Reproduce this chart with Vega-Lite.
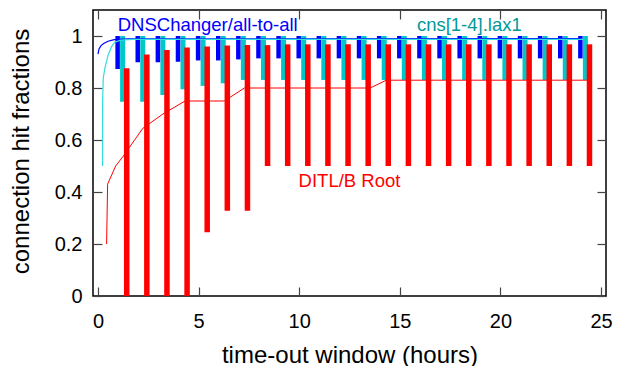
{
  "$schema": "https://vega.github.io/schema/vega-lite/v6.json",
  "width": 513,
  "height": 286,
  "autosize": {"type": "none"},
  "padding": {"left": 93, "top": 10, "right": 15, "bottom": 70},
  "config": {
    "font": "Liberation Sans",
    "view": {"stroke": "black", "strokeWidth": 1.5},
    "axis": {
      "grid": false,
      "domain": false,
      "tickSize": -9,
      "tickColor": "#444444",
      "tickWidth": 1.2,
      "labelFont": "Liberation Sans",
      "labelFontSize": 20,
      "labelColor": "black",
      "titleFont": "Liberation Sans",
      "titleFontSize": 24,
      "titleFontWeight": "normal",
      "titleColor": "black"
    }
  },
  "datasets": {
    "bars": [
      {"h": 1, "s": "DNSChanger", "lo": 0.873, "hi": 1.0},
      {"h": 2, "s": "DNSChanger", "lo": 0.899, "hi": 1.0},
      {"h": 3, "s": "DNSChanger", "lo": 0.899, "hi": 1.0},
      {"h": 4, "s": "DNSChanger", "lo": 0.901, "hi": 1.0},
      {"h": 5, "s": "DNSChanger", "lo": 0.906, "hi": 1.0},
      {"h": 6, "s": "DNSChanger", "lo": 0.906, "hi": 1.0},
      {"h": 7, "s": "DNSChanger", "lo": 0.91, "hi": 1.0},
      {"h": 8, "s": "DNSChanger", "lo": 0.914, "hi": 1.0},
      {"h": 9, "s": "DNSChanger", "lo": 0.914, "hi": 1.0},
      {"h": 10, "s": "DNSChanger", "lo": 0.914, "hi": 1.0},
      {"h": 11, "s": "DNSChanger", "lo": 0.914, "hi": 1.0},
      {"h": 12, "s": "DNSChanger", "lo": 0.914, "hi": 1.0},
      {"h": 13, "s": "DNSChanger", "lo": 0.914, "hi": 1.0},
      {"h": 14, "s": "DNSChanger", "lo": 0.914, "hi": 1.0},
      {"h": 15, "s": "DNSChanger", "lo": 0.914, "hi": 1.0},
      {"h": 16, "s": "DNSChanger", "lo": 0.914, "hi": 1.0},
      {"h": 17, "s": "DNSChanger", "lo": 0.914, "hi": 1.0},
      {"h": 18, "s": "DNSChanger", "lo": 0.914, "hi": 1.0},
      {"h": 19, "s": "DNSChanger", "lo": 0.914, "hi": 1.0},
      {"h": 20, "s": "DNSChanger", "lo": 0.914, "hi": 1.0},
      {"h": 21, "s": "DNSChanger", "lo": 0.914, "hi": 1.0},
      {"h": 22, "s": "DNSChanger", "lo": 0.914, "hi": 1.0},
      {"h": 23, "s": "DNSChanger", "lo": 0.914, "hi": 1.0},
      {"h": 24, "s": "DNSChanger", "lo": 0.914, "hi": 1.0},
      {"h": 1, "s": "cns", "lo": 0.747, "hi": 1.0},
      {"h": 2, "s": "cns", "lo": 0.747, "hi": 1.0},
      {"h": 3, "s": "cns", "lo": 0.773, "hi": 1.0},
      {"h": 4, "s": "cns", "lo": 0.795, "hi": 1.0},
      {"h": 5, "s": "cns", "lo": 0.808, "hi": 1.0},
      {"h": 6, "s": "cns", "lo": 0.818, "hi": 1.0},
      {"h": 7, "s": "cns", "lo": 0.831, "hi": 1.0},
      {"h": 8, "s": "cns", "lo": 0.831, "hi": 1.0},
      {"h": 9, "s": "cns", "lo": 0.831, "hi": 1.0},
      {"h": 10, "s": "cns", "lo": 0.831, "hi": 1.0},
      {"h": 11, "s": "cns", "lo": 0.831, "hi": 1.0},
      {"h": 12, "s": "cns", "lo": 0.831, "hi": 1.0},
      {"h": 13, "s": "cns", "lo": 0.831, "hi": 1.0},
      {"h": 14, "s": "cns", "lo": 0.831, "hi": 1.0},
      {"h": 15, "s": "cns", "lo": 0.831, "hi": 1.0},
      {"h": 16, "s": "cns", "lo": 0.831, "hi": 1.0},
      {"h": 17, "s": "cns", "lo": 0.831, "hi": 1.0},
      {"h": 18, "s": "cns", "lo": 0.831, "hi": 1.0},
      {"h": 19, "s": "cns", "lo": 0.831, "hi": 1.0},
      {"h": 20, "s": "cns", "lo": 0.831, "hi": 1.0},
      {"h": 21, "s": "cns", "lo": 0.831, "hi": 1.0},
      {"h": 22, "s": "cns", "lo": 0.831, "hi": 1.0},
      {"h": 23, "s": "cns", "lo": 0.831, "hi": 1.0},
      {"h": 24, "s": "cns", "lo": 0.831, "hi": 1.0},
      {"h": 1, "s": "DITL", "lo": 0.0, "hi": 0.876},
      {"h": 2, "s": "DITL", "lo": 0.0, "hi": 0.929},
      {"h": 3, "s": "DITL", "lo": 0.0, "hi": 0.946},
      {"h": 4, "s": "DITL", "lo": 0.0, "hi": 0.956},
      {"h": 5, "s": "DITL", "lo": 0.245, "hi": 0.96},
      {"h": 6, "s": "DITL", "lo": 0.328, "hi": 0.963},
      {"h": 7, "s": "DITL", "lo": 0.328, "hi": 0.965},
      {"h": 8, "s": "DITL", "lo": 0.5, "hi": 0.965},
      {"h": 9, "s": "DITL", "lo": 0.5, "hi": 0.968},
      {"h": 10, "s": "DITL", "lo": 0.5, "hi": 0.968},
      {"h": 11, "s": "DITL", "lo": 0.5, "hi": 0.968},
      {"h": 12, "s": "DITL", "lo": 0.5, "hi": 0.968},
      {"h": 13, "s": "DITL", "lo": 0.5, "hi": 0.968},
      {"h": 14, "s": "DITL", "lo": 0.5, "hi": 0.968},
      {"h": 15, "s": "DITL", "lo": 0.5, "hi": 0.968},
      {"h": 16, "s": "DITL", "lo": 0.5, "hi": 0.968},
      {"h": 17, "s": "DITL", "lo": 0.5, "hi": 0.968},
      {"h": 18, "s": "DITL", "lo": 0.5, "hi": 0.968},
      {"h": 19, "s": "DITL", "lo": 0.5, "hi": 0.968},
      {"h": 20, "s": "DITL", "lo": 0.5, "hi": 0.968},
      {"h": 21, "s": "DITL", "lo": 0.5, "hi": 0.968},
      {"h": 22, "s": "DITL", "lo": 0.5, "hi": 0.968},
      {"h": 23, "s": "DITL", "lo": 0.5, "hi": 0.968},
      {"h": 24, "s": "DITL", "lo": 0.5, "hi": 0.968}
    ],
    "lines": [
      {"s": "DNSChanger", "t": 0, "v": 0.93},
      {"s": "DNSChanger", "t": 0.05, "v": 0.95},
      {"s": "DNSChanger", "t": 0.15, "v": 0.963},
      {"s": "DNSChanger", "t": 0.3, "v": 0.972},
      {"s": "DNSChanger", "t": 0.5, "v": 0.98},
      {"s": "DNSChanger", "t": 0.8, "v": 0.986},
      {"s": "DNSChanger", "t": 1.5, "v": 0.989},
      {"s": "DNSChanger", "t": 24.0, "v": 0.99},
      {"s": "cns", "t": 0, "v": 0.5},
      {"s": "cns", "t": 0.005, "v": 0.75},
      {"s": "cns", "t": 0.04, "v": 0.84},
      {"s": "cns", "t": 0.12, "v": 0.876},
      {"s": "cns", "t": 0.28, "v": 0.927},
      {"s": "cns", "t": 0.45, "v": 0.959},
      {"s": "cns", "t": 0.61, "v": 0.976},
      {"s": "cns", "t": 0.9, "v": 0.984},
      {"s": "cns", "t": 1.5, "v": 0.987},
      {"s": "cns", "t": 23.9, "v": 0.987},
      {"s": "DITL", "t": 0, "v": 0.2},
      {"s": "DITL", "t": 0.05, "v": 0.43},
      {"s": "DITL", "t": 0.45, "v": 0.5},
      {"s": "DITL", "t": 0.8, "v": 0.535},
      {"s": "DITL", "t": 1.8, "v": 0.645},
      {"s": "DITL", "t": 2.8, "v": 0.7},
      {"s": "DITL", "t": 3.9, "v": 0.75},
      {"s": "DITL", "t": 5.85, "v": 0.75},
      {"s": "DITL", "t": 6.85, "v": 0.8},
      {"s": "DITL", "t": 13.1, "v": 0.8},
      {"s": "DITL", "t": 13.9, "v": 0.83},
      {"s": "DITL", "t": 23.95, "v": 0.83}
    ],
    "labels": [
      {"s": "DNSChanger", "x": 0.98, "y": 1.042, "label": "DNSChanger/all-to-all"},
      {"s": "cns", "x": 15.85, "y": 1.042, "label": "cns[1-4].lax1"},
      {"s": "DITL", "x": 9.97, "y": 0.442, "label": "DITL/B Root"}
    ]
  },
  "layer": [
    {
      "data": {"name": "bars"},
      "transform": [{"filter": "datum.s === 'cns'"}],
      "mark": {"type": "bar", "size": 5, "color": "#00c8c8", "xOffset": 4.5},
      "encoding": {
        "x": {"field": "h", "type": "quantitative",
          "scale": {"domain": [0, 25], "nice": false, "zero": false},
          "axis": {"orient": "bottom", "values": [0, 5, 10, 15, 20, 25], "labelPadding": 24, "title": "time-out window (hours)", "titleY": 66, "titleBaseline": "alphabetic"}},
        "y": {"field": "lo", "type": "quantitative",
          "scale": {"domain": [0, 1.1], "nice": false},
          "axis": {"orient": "left", "values": [0, 0.2, 0.4, 0.6, 0.8, 1], "format": "~g", "labelPadding": 20, "title": "connection hit fractions", "titleX": -65, "titleY": 141, "titleBaseline": "alphabetic"}},
        "y2": {"field": "hi"}
      }
    },
    {
      "data": {"name": "bars"},
      "transform": [{"filter": "datum.s === 'DNSChanger'"}],
      "mark": {"type": "bar", "size": 4.5, "color": "#0000ff", "xOffset": -0.5},
      "encoding": {
        "x": {"field": "h", "type": "quantitative",
          "axis": {"orient": "top", "values": [0, 5, 10, 15, 20, 25], "labels": false, "title": null}},
        "y": {"field": "lo", "type": "quantitative",
          "axis": {"orient": "right", "values": [0, 0.2, 0.4, 0.6, 0.8, 1], "labels": false, "title": null}},
        "y2": {"field": "hi"}
      }
    },
    {
      "data": {"name": "bars"},
      "transform": [{"filter": "datum.s === 'DITL'"}],
      "mark": {"type": "bar", "size": 5.5, "color": "#ff0000", "xOffset": 8.6},
      "encoding": {
        "x": {"field": "h", "type": "quantitative", "axis": null},
        "y": {"field": "lo", "type": "quantitative", "axis": null},
        "y2": {"field": "hi"}
      }
    },
    {
      "data": {"name": "lines"},
      "transform": [{"filter": "datum.s === 'DNSChanger'"}],
      "mark": {"type": "line", "color": "#0000ff", "strokeWidth": 1.2, "interpolate": "linear"},
      "encoding": {
        "x": {"field": "t", "type": "quantitative", "axis": null},
        "y": {"field": "v", "type": "quantitative", "axis": null}
      }
    },
    {
      "data": {"name": "lines"},
      "transform": [{"filter": "datum.s === 'cns'"}],
      "mark": {"type": "line", "color": "#33dddd", "strokeWidth": 1.2, "xOffset": 4.5},
      "encoding": {
        "x": {"field": "t", "type": "quantitative", "axis": null},
        "y": {"field": "v", "type": "quantitative", "axis": null}
      }
    },
    {
      "data": {"name": "lines"},
      "transform": [{"filter": "datum.s === 'DITL'"}],
      "mark": {"type": "line", "color": "#ff0000", "strokeWidth": 1, "xOffset": 8.6},
      "encoding": {
        "x": {"field": "t", "type": "quantitative", "axis": null},
        "y": {"field": "v", "type": "quantitative", "axis": null}
      }
    },
    {
      "data": {"name": "labels"},
      "transform": [{"filter": "datum.s === 'DNSChanger'"}],
      "mark": {"type": "text", "color": "#0000ff", "fontSize": 18.5, "align": "left", "baseline": "middle"},
      "encoding": {
        "x": {"field": "x", "type": "quantitative", "axis": null},
        "y": {"field": "y", "type": "quantitative", "axis": null},
        "text": {"field": "label"}
      }
    },
    {
      "data": {"name": "labels"},
      "transform": [{"filter": "datum.s === 'cns'"}],
      "mark": {"type": "text", "color": "#009999", "fontSize": 18.5, "align": "left", "baseline": "middle"},
      "encoding": {
        "x": {"field": "x", "type": "quantitative", "axis": null},
        "y": {"field": "y", "type": "quantitative", "axis": null},
        "text": {"field": "label"}
      }
    },
    {
      "data": {"name": "labels"},
      "transform": [{"filter": "datum.s === 'DITL'"}],
      "mark": {"type": "text", "color": "#ff0000", "fontSize": 18.5, "align": "left", "baseline": "middle"},
      "encoding": {
        "x": {"field": "x", "type": "quantitative", "axis": null},
        "y": {"field": "y", "type": "quantitative", "axis": null},
        "text": {"field": "label"}
      }
    }
  ]
}
